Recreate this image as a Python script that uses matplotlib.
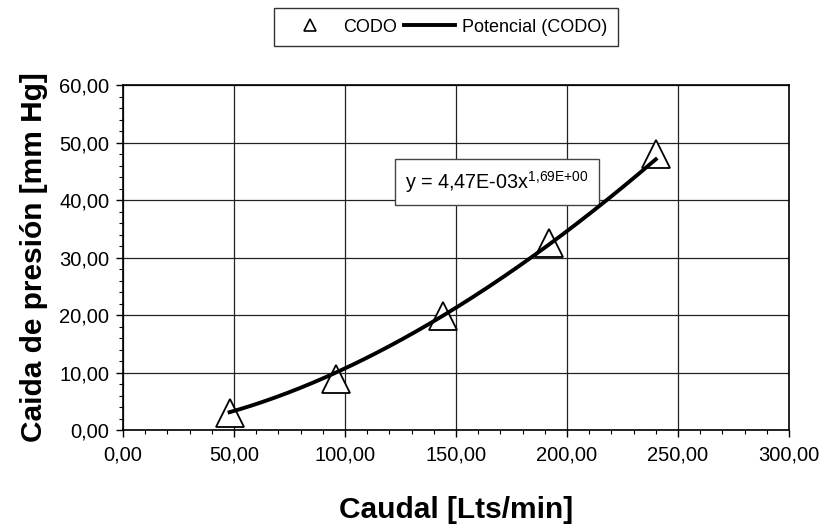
import numpy as np
import matplotlib.pyplot as plt
from matplotlib.lines import Line2D
from matplotlib.ticker import FuncFormatter, MultipleLocator

plt.rcParams['font.family'] = ['Liberation Sans', 'DejaVu Sans']
plt.rcParams['mathtext.fontset'] = 'custom'
plt.rcParams['mathtext.rm'] = 'Liberation Sans'

# data
caudal = [48, 96, 144, 192, 240]
caida = [3.0, 8.9, 19.8, 32.5, 48.0]

# power trendline shown on the chart: y = a * x^b
coef_a = 4.47e-3
coef_b = 1.69

fig = plt.figure(figsize=(8.23, 5.29), dpi=100)
ax = fig.add_axes([0.1495, 0.1871, 0.8092, 0.6522])

xfit = np.linspace(min(caudal), max(caudal), 200)
yfit = coef_a * xfit ** coef_b

ax.plot(caudal, caida, linestyle='none', marker='^', markersize=19.5,
        markerfacecolor='white', markeredgecolor='black', markeredgewidth=1.3, zorder=3)
ax.plot(xfit, yfit, color='black', linewidth=2.8, zorder=4)

ax.set_xlim(0, 300)
ax.set_ylim(0, 60)
ax.xaxis.set_major_locator(MultipleLocator(50))
ax.xaxis.set_minor_locator(MultipleLocator(10))
ax.yaxis.set_major_locator(MultipleLocator(10))
ax.yaxis.set_minor_locator(MultipleLocator(2))

fmt = FuncFormatter(lambda v, p: f"{v:.2f}".replace('.', ','))
ax.xaxis.set_major_formatter(fmt)
ax.yaxis.set_major_formatter(fmt)

ax.tick_params(which='major', direction='out', length=5, width=1, labelsize=14.5)
ax.tick_params(axis='x', which='major', pad=6)
ax.tick_params(axis='y', which='major', pad=5)
ax.tick_params(which='minor', direction='out', length=3, width=0.8)
ax.grid(True, which='major', color='#222222', linewidth=0.9)
ax.set_axisbelow(True)
for sp in ax.spines.values():
    sp.set_color('black')
    sp.set_linewidth(1.2)

ax.set_xlabel('Caudal [Lts/min]', fontsize=21.5, fontweight='bold', labelpad=23)
ax.set_ylabel('Caida de presión [mm Hg]', fontsize=21.5, fontweight='bold', labelpad=8)

ax.text(0.5616, 0.719, r'y = 4,47E-03x$^{\mathregular{1{,}69E{+}00}}$', transform=ax.transAxes,
        fontsize=14.2, va='center', ha='center',
        bbox=dict(boxstyle='square,pad=0.5', facecolor='white', edgecolor='#444444', linewidth=1))

handles = [
    Line2D([], [], linestyle='none', marker='^', markersize=8, markerfacecolor='white',
           markeredgecolor='black', markeredgewidth=1.2, label='CODO'),
    Line2D([], [], color='black', linewidth=2.8, label='Potencial (CODO)'),
]
leg = ax.legend(handles=handles, loc='center', bbox_to_anchor=(0.485, 1.168), ncol=2,
                fontsize=13, frameon=True, fancybox=False, edgecolor='black',
                handlelength=2.8, columnspacing=0.4, handletextpad=0.4, borderpad=0.6)
leg.get_frame().set_linewidth(1)

fig.savefig('out.png', dpi=100)
